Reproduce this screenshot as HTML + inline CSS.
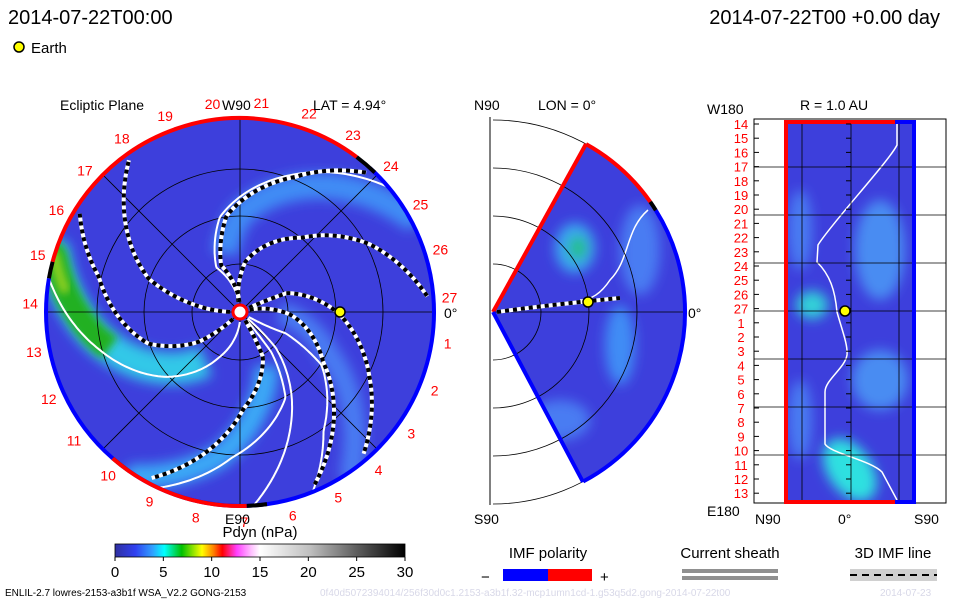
<!DOCTYPE html>
<html><head><meta charset="utf-8"><style>
html,body{margin:0;padding:0;background:#fff;}
svg text{font-family:"Liberation Sans",sans-serif;}
</style></head><body>
<svg id="c" width="960" height="600" viewBox="0 0 960 600" xmlns="http://www.w3.org/2000/svg">
<defs>
<filter id="bl" x="-20%" y="-20%" width="140%" height="140%"><feGaussianBlur stdDeviation="6"/></filter>
<filter id="bl2" x="-20%" y="-20%" width="140%" height="140%"><feGaussianBlur stdDeviation="4"/></filter>
<clipPath id="cpL"><circle cx="240" cy="312" r="194"/></clipPath>
<clipPath id="cpM"><path d="M493,312 L586,144 A192,192 0 0 1 583,482 Z"/></clipPath>
<clipPath id="cpR"><rect x="786" y="122" width="128" height="380"/></clipPath>
<linearGradient id="cbar" x1="0" x2="1">
<stop offset="0" stop-color="#3030a0"/><stop offset="0.07" stop-color="#3040f0"/><stop offset="0.13" stop-color="#30a0ff"/><stop offset="0.17" stop-color="#00ffff"/><stop offset="0.23" stop-color="#00c000"/><stop offset="0.3" stop-color="#ffff00"/><stop offset="0.34" stop-color="#ff8000"/><stop offset="0.37" stop-color="#ff0000"/><stop offset="0.42" stop-color="#ff40ff"/><stop offset="0.47" stop-color="#ffc0ff"/><stop offset="0.5" stop-color="#ffffff"/><stop offset="0.67" stop-color="#c0c0c0"/><stop offset="0.83" stop-color="#606060"/><stop offset="1" stop-color="#000000"/>
</linearGradient>
</defs>
<g id="root"></g>
</svg>
<script>
// ---- data ----
const dateLeft = "2014-07-22T00:00";
const dateRight = "2014-07-22T00 +0.00 day";
const cbarTicks = [0,5,10,15,20,25,30];
const carrLabels = [27,26,25,24,23,22,21,20,19,18,17,16,15,14,13,12,11,10,9,8,7,6,5,4,3,2,1];
// field-line longitudes (deg) at radial fractions 0.04,0.26,0.5,0.75,1.0 of plot radius
const lineEarth = [25,22,0,-27,-52];
const line27 = [100,84,50,28,1.5];
const line24 = [92,112,98,68,45];
const line18 = [180,170,160,142,124];
const line16 = [225,216,199,166,146];
const line9 = [-58,-63,-88,-104,-120];
const line5 = [15,-3,-31,-50,-69];
const whiteTop = [95,118,102,70,40];
const whiteArm = [270,245,222,195,170];
const whiteB1 = [-40,-45,-58,-72,-86];
const whiteB2 = [-30,-25,-33,-55,-68];
const whiteB3 = [-50,-52,-62,-93,-115];
const bandArm = [265,240,215,190,163];
const bandTop = [90,108,90,60,30];
const bandBottom = [-55,-60,-80,-98,-122];
const bandRight = [10,-5,-25,-40,-55];
const earthR = 100, earthLon = 0;
const rightLabels = [14,15,16,17,18,19,20,21,22,23,24,25,26,27,1,2,3,4,5,6,7,8,9,10,11,12,13];

const NS="http://www.w3.org/2000/svg";
const root=document.getElementById('root');
function mk(tag,attrs,parent,txt){const e=document.createElementNS(NS,tag);for(const k in attrs)e.setAttribute(k,attrs[k]);if(txt!==undefined)e.textContent=txt;(parent||root).appendChild(e);return e;}
const CX=240,CY=312,R=194;
const FR=[0.04,0.26,0.5,0.75,1.0];
function pol(r,phi,cx,cy){const a=phi*Math.PI/180;return [(cx||CX)+r*Math.cos(a),(cy||CY)-r*Math.sin(a)];}
function angAt(arr,r){const f=r/R;if(f<=FR[0])return arr[0];for(let i=1;i<FR.length;i++){if(f<=FR[i]){const t=(f-FR[i-1])/(FR[i]-FR[i-1]);return arr[i-1]+t*(arr[i]-arr[i-1]);}}return arr[arr.length-1];}
function spiral(arr,r0,r1){let d="";for(let r=r0;r<=r1;r+=2){const p=pol(r,angAt(arr,r));d+=(d?"L":"M")+p[0].toFixed(1)+","+p[1].toFixed(1);}return d;}

let t;
t=mk('text',{x:8,y:24,'font-size':20,fill:'#000'},root,dateLeft);

t=mk('text',{x:940,y:24,'font-size':20,fill:'#000','text-anchor':'end'},root,dateRight);

let g=mk('g',{});
mk('circle',{cx:19,cy:47,r:5,fill:'#ffff00',stroke:'#000','stroke-width':1.5},g);
mk('text',{x:31,y:53,'font-size':15},g,'Earth');

// ---- left ecliptic panel ----
const L=mk('g',{});
const Lc=mk('g',{'clip-path':'url(#cpL)'},L);
mk('circle',{cx:CX,cy:CY,r:R,fill:'#3d3fdc'},Lc);
const bands=mk('g',{filter:'url(#bl)'},Lc);
const bandDefs=[[bandTop,'#3f8cf5',26,60],[bandBottom,'#3aa8f6',24,60],[bandRight,'#4a7cf2',22,40],[bandArm,'#30c8e8',32,60]];
for(const b of bandDefs){
  const p=mk('path',{d:spiral(b[0],b[3],R+10),fill:'none',stroke:b[1],'stroke-width':b[2]},bands);
  
}
const green=mk('path',{d:spiral(bandArm,135,R+10),fill:'none',stroke:'#20b020','stroke-width':26,filter:'url(#bl2)'},Lc);

mk('path',{d:spiral(bandArm,175,R+10),fill:'none',stroke:'#90d020','stroke-width':10,filter:'url(#bl2)'},Lc);
for(const r of [48,96,143]) mk('circle',{cx:CX,cy:CY,r:r,fill:'none',stroke:'#000','stroke-width':0.8},Lc);
for(let a=0;a<180;a+=45){const p1=pol(R,a),p2=pol(R,a+180);mk('line',{x1:p1[0],y1:p1[1],x2:p2[0],y2:p2[1],stroke:'#000','stroke-width':0.8},Lc);}
for(const w of [whiteTop,whiteArm,whiteB1,whiteB2,whiteB3]){
  const p=mk('path',{d:spiral(w,10,R),fill:'none',stroke:'#fff','stroke-width':2},Lc);
  
}
for(const ln of [lineEarth,line27,line24,line18,line16,line9,line5]){
  const gg=mk('g',{},Lc);
  const d=spiral(ln,10,R-6);
  mk('path',{d:d,fill:'none',stroke:'#fff','stroke-width':4},gg);
  mk('path',{d:d,fill:'none',stroke:'#000','stroke-width':4,'stroke-dasharray':'4 4'},gg);
}
function arc(r,a1,a2,col,w,cx,cy,parent){const p1=pol(r,a1,cx,cy),p2=pol(r,a2,cx,cy);const large=Math.abs(a2-a1)>180?1:0;return mk('path',{d:`M${p1[0]},${p1[1]} A${r},${r} 0 ${large} ${a2<a1?1:0} ${p2[0]},${p2[1]}`,fill:'none',stroke:col,'stroke-width':w},parent||L);}
arc(R,48,-125,'#0000ff',4);arc(R,-125,-131,'#000',4);arc(R,-131,-88,'#ff0000',4);
arc(R,-88,-82,'#000',4);
arc(R,-131,-180,'#0000ff',4);arc(R,180,170,'#0000ff',4);arc(R,170,165,'#000',4);arc(R,165,53,'#ff0000',4);arc(R,53,46,'#000',4);
mk('circle',{cx:CX,cy:CY,r:7,fill:'#fff',stroke:'#ff0000','stroke-width':3},L);
const ep=pol(earthR,earthLon);
let e=mk('circle',{cx:ep[0],cy:ep[1],r:5,fill:'#ffff00',stroke:'#000','stroke-width':1.5},L);

for(let i=0;i<carrLabels.length;i++){
  const a=4+i*13.36;const p=pol(210,a);
  const tx=mk('text',{x:p[0],y:p[1]+5,'font-size':14,fill:'#ff0000','text-anchor':'middle'},L,String(carrLabels[i]));
  
}
mk('text',{x:60,y:110,'font-size':14},L,'Ecliptic Plane');
mk('text',{x:222,y:110,'font-size':14},L,'W90');
mk('text',{x:313,y:110,'font-size':14},L,'LAT = 4.94°');
mk('text',{x:225,y:524,'font-size':14},L,'E90');
mk('text',{x:444,y:318,'font-size':14},L,'0°');

// ---- middle meridional panel ----
const M=mk('g',{});
const MX=493,MY=312,MR=192;
mk('line',{x1:490,y1:117,x2:490,y2:505,stroke:'#000','stroke-width':1},M);
const Mc=mk('g',{'clip-path':'url(#cpM)'},M);
mk('rect',{x:490,y:117,width:200,height:390,fill:'#3d3fdc'},Mc);
const mb=mk('g',{filter:'url(#bl)'},Mc);
mk('ellipse',{cx:575,cy:248,rx:20,ry:25,fill:'#3aa8f0'},mb);
mk('ellipse',{cx:578,cy:248,rx:9,ry:12,fill:'#20c080'},mb);
mk('ellipse',{cx:620,cy:345,rx:15,ry:40,fill:'#3f8cf5'},mb);
mk('ellipse',{cx:560,cy:420,rx:30,ry:20,fill:'#4a7cf2'},mb);
mk('ellipse',{cx:640,cy:250,rx:20,ry:45,fill:'#4a7cf2'},mb);
mk('path',{d:'M648,210 C625,230 630,260 610,280 C600,295 590,300 580,300',fill:'none',stroke:'#fff','stroke-width':1.5},Mc);
for(const r of [48,96,144,192]) mk('path',{d:`M${MX},${MY-r} A${r},${r} 0 0 1 ${MX},${MY+r}`,fill:'none',stroke:'#000','stroke-width':0.8},M);
mk('line',{x1:MX,y1:MY,x2:MX+MR,y2:MY,stroke:'#000','stroke-width':0.8},M);
arc(MR,61,35,'#ff0000',4,MX,MY,M);arc(MR,35,32,'#000',4,MX,MY,M);arc(MR,32,-62,'#0000ff',4,MX,MY,M);
mk('line',{x1:MX,y1:MY,x2:586,y2:144,stroke:'#ff0000','stroke-width':4},M);
mk('line',{x1:MX,y1:MY,x2:583,y2:482,stroke:'#0000ff','stroke-width':4},M);
mk('path',{d:'M497,312 C540,306 580,302 620,298',fill:'none',stroke:'#fff','stroke-width':4},M);
mk('path',{d:'M497,312 C540,306 580,302 620,298',fill:'none',stroke:'#000','stroke-width':4,'stroke-dasharray':'4 4'},M);
e=mk('circle',{cx:588,cy:302,r:5,fill:'#ffff00',stroke:'#000','stroke-width':1.5},M);

mk('text',{x:474,y:110,'font-size':14},M,'N90');
mk('text',{x:538,y:110,'font-size':14},M,'LON = 0°');
mk('text',{x:474,y:524,'font-size':14},M,'S90');
mk('text',{x:688,y:318,'font-size':14},M,'0°');

// ---- right panel ----
const Rp=mk('g',{});
const Rc=mk('g',{'clip-path':'url(#cpR)'},Rp);
mk('rect',{x:786,y:122,width:128,height:380,fill:'#3d3fdc'},Rc);
const rb=mk('g',{filter:'url(#bl)'},Rc);
mk('ellipse',{cx:812,cy:305,rx:16,ry:14,fill:'#30d0d8'},rb);
mk('ellipse',{cx:850,cy:470,rx:22,ry:35,fill:'#2fe0e0',transform:'rotate(-35 850 470)'},rb);
mk('ellipse',{cx:880,cy:250,rx:25,ry:50,fill:'#4a8cf2'},rb);
mk('ellipse',{cx:880,cy:380,rx:28,ry:30,fill:'#4a8cf2'},rb);
mk('ellipse',{cx:800,cy:230,rx:12,ry:40,fill:'#4a7cf2'},rb);
mk('ellipse',{cx:800,cy:420,rx:12,ry:40,fill:'#4a7cf2'},rb);
mk('path',{d:'M897,122 L897,145 C890,160 830,225 818,245 L817,262 C830,275 835,290 837,312 C842,330 848,345 847,355 C845,368 825,380 825,392 L825,444 C830,453 870,460 882,472 L897,500',fill:'none',stroke:'#fff','stroke-width':1.5},Rc);
mk('rect',{x:754,y:119,width:192,height:384,fill:'none',stroke:'#000','stroke-width':1},Rp);
for(const x of [802,851,899]) mk('line',{x1:x,y1:122,x2:x,y2:502,stroke:'#000','stroke-width':0.8},Rp);
for(let k=0;k<7;k++){const y=167+k*48;mk('line',{x1:754,y1:y,x2:946,y2:y,stroke:'#000','stroke-width':0.8},Rp);}
mk('path',{d:'M895,122 L786,122 L786,502 L895,502',fill:'none',stroke:'#ff0000','stroke-width':4},Rp);
mk('path',{d:'M895,122 L914,122 L914,502 L895,502',fill:'none',stroke:'#0000ff','stroke-width':4},Rp);
for(let i=0;i<rightLabels.length;i++){
  const y=124+i*14.2;
  mk('line',{x1:754,y1:y,x2:759,y2:y,stroke:'#000'},Rp);
  mk('line',{x1:846,y1:y,x2:851,y2:y,stroke:'#000'},Rp);
  const tx=mk('text',{x:741,y:y+5,'font-size':13,fill:'#ff0000','text-anchor':'middle'},Rp,String(rightLabels[i]));
  
}
e=mk('circle',{cx:845,cy:311,r:5,fill:'#ffff00',stroke:'#000','stroke-width':1.5},Rp);

mk('text',{x:707,y:114,'font-size':14},Rp,'W180');
mk('text',{x:800,y:110,'font-size':14},Rp,'R = 1.0 AU');
mk('text',{x:707,y:516,'font-size':14},Rp,'E180');
mk('text',{x:755,y:524,'font-size':14},Rp,'N90');
mk('text',{x:838,y:524,'font-size':14},Rp,'0°');
mk('text',{x:914,y:524,'font-size':14},Rp,'S90');

// ---- colorbar ----
const C=mk('g',{});
mk('text',{x:260,y:537,'font-size':15,'text-anchor':'middle'},C,'Pdyn (nPa)');
mk('rect',{x:115,y:544,width:290,height:13,fill:'url(#cbar)',stroke:'#000','stroke-width':0.8},C);
for(const v of cbarTicks){const x=115+290*v/30;
  mk('line',{x1:x,y1:557,x2:x,y2:561,stroke:'#000'},C);
  const tx=mk('text',{x:x,y:577,'font-size':15,'text-anchor':'middle'},C,String(v));
  
}

// ---- bottom legends ----
g=mk('g',{});
mk('text',{x:548,y:558,'font-size':15,'text-anchor':'middle'},g,'IMF polarity');
mk('text',{x:481,y:582,'font-size':15},g,'−');
mk('rect',{x:503,y:569,width:45,height:12,fill:'#0000ff'},g);
mk('rect',{x:548,y:569,width:44,height:12,fill:'#ff0000'},g);
mk('text',{x:600,y:582,'font-size':15},g,'+');
g=mk('g',{});
mk('text',{x:730,y:558,'font-size':15,'text-anchor':'middle'},g,'Current sheath');
mk('rect',{x:682,y:569,width:96,height:4,fill:'#909090'},g);
mk('rect',{x:682,y:576,width:96,height:4,fill:'#909090'},g);
g=mk('g',{});
mk('text',{x:893,y:558,'font-size':15,'text-anchor':'middle'},g,'3D IMF line');
mk('rect',{x:850,y:569,width:87,height:12,fill:'#d0d0d0'},g);
mk('line',{x1:850,y1:575,x2:937,y2:575,stroke:'#000','stroke-width':2,'stroke-dasharray':'7 5'},g);

t=mk('text',{x:5,y:596,'font-size':10},root,'ENLIL-2.7 lowres-2153-a3b1f WSA_V2.2 GONG-2153');

t=mk('text',{x:320,y:596,'font-size':10,fill:'#d8d8e8'},root,'0f40d5072394014/256f30d0c1.2153-a3b1f.32-mcp1umn1cd-1.g53q5d2.gong-2014-07-22t00');
t=mk('text',{x:880,y:596,'font-size':10,fill:'#d8d8e8'},root,'2014-07-23');
</script>
</body></html>
